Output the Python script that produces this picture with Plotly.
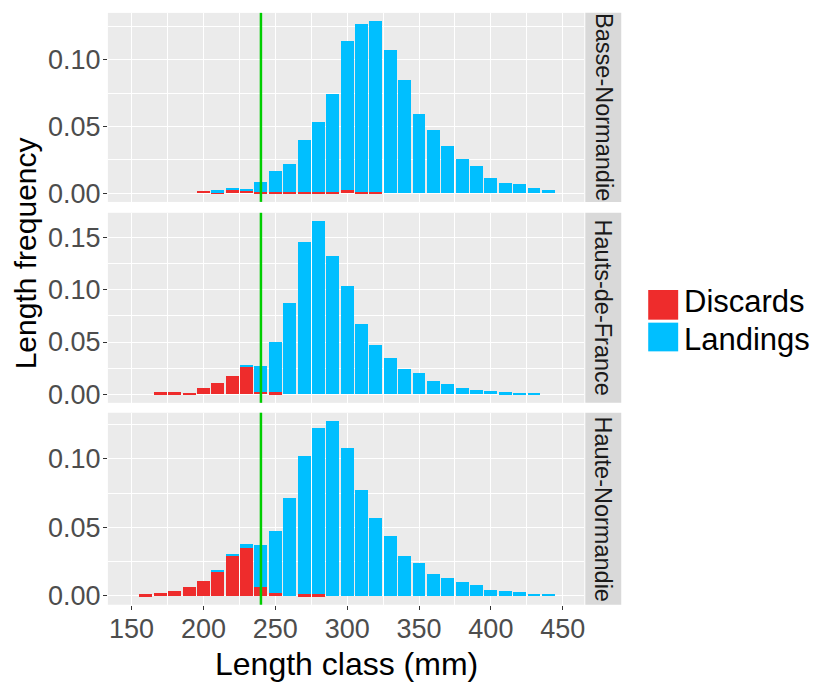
import plotly.graph_objects as go
from plotly.subplots import make_subplots

W, H = 825, 682

# ---------------- data ----------------
lengths = list(range(160, 450, 10))  # length classes (mm), bar centres
regions = ["Basse-Normandie", "Hauts-de-France", "Haute-Normandie"]

discards_bn = [0, 0, 0, 0, 0.0015, 0.0010, 0.0022, 0.0024, 0.0012, 0.0012,
               0.0012, 0.0012, 0.0012, 0.0012, 0.0022, 0.0012, 0.0012, 0, 0, 0,
               0, 0, 0, 0, 0, 0, 0, 0, 0]
landings_bn = [0, 0, 0, 0, 0, 0.0012, 0.0019, 0.0008, 0.0071, 0.0154,
               0.0208, 0.0386, 0.0520, 0.0734, 0.1119, 0.1251, 0.1273, 0.1068, 0.0851, 0.0595,
               0.0471, 0.0356, 0.0254, 0.0202, 0.0118, 0.0078, 0.0068, 0.0037, 0.0026]

discards_hf = [0, 0.0019, 0.0019, 0.0016, 0.0057, 0.0110, 0.0177, 0.0262, 0.0020, 0.0019,
               0, 0, 0, 0, 0, 0, 0, 0, 0, 0,
               0, 0, 0, 0, 0, 0, 0, 0, 0]
landings_hf = [0, 0, 0, 0, 0, 0, 0, 0.0022, 0.0251, 0.0479,
               0.0871, 0.1460, 0.1656, 0.1325, 0.1040, 0.0672, 0.0470, 0.0350, 0.0243, 0.0202,
               0.0123, 0.0098, 0.0060, 0.0044, 0.0028, 0.0019, 0.0016, 0.0016, 0]

discards_hn = [0.0013, 0.0025, 0.0035, 0.0066, 0.0106, 0.0180, 0.0293, 0.0351, 0.0065, 0.0023,
               0, 0.0013, 0.0013, 0, 0, 0, 0, 0, 0, 0,
               0, 0, 0, 0, 0, 0, 0, 0, 0]
landings_hn = [0, 0, 0, 0, 0, 0.0010, 0.0017, 0.0032, 0.0310, 0.0452,
               0.0714, 0.1006, 0.1210, 0.1274, 0.1080, 0.0772, 0.0569, 0.0436, 0.0293, 0.0242,
               0.0160, 0.0128, 0.0099, 0.0077, 0.0046, 0.0036, 0.0027, 0.0015, 0.0015]

discards = [discards_bn, discards_hf, discards_hn]
landings = [landings_bn, landings_hf, landings_hn]

x_ticks = [150, 200, 250, 300, 350, 400, 450]
y_ticks = [[0, 0.05, 0.10], [0, 0.05, 0.10, 0.15], [0, 0.05, 0.10]]
mls = 240  # minimum landing size (mm)

series_names = ["Discards", "Landings"]
series_colors = ["#EE2C2C", "#00BFFF"]

# ---------------- layout helpers ----------------
def px_x(v):
    return v / W

def px_y(v):
    return 1 - v / H

panel_left, panel_right = 108, 585
strip_right = 622
panel_rows = [(13, 204), (215, 407), (417, 611)]

FONT = "Liberation Sans, Arial, sans-serif"
TICK_FONT = dict(size=27, color="#4D4D4D", family=FONT)

fig = make_subplots(rows=3, cols=1, shared_xaxes=True, vertical_spacing=0.02)

for i in range(3):
    fig.add_trace(go.Bar(x=lengths, y=discards[i], width=9, name=series_names[0],
                         marker=dict(color=series_colors[0], line=dict(width=0)),
                         showlegend=False), row=i + 1, col=1)
    fig.add_trace(go.Bar(x=lengths, y=landings[i], width=9, name=series_names[1],
                         marker=dict(color=series_colors[1], line=dict(width=0)),
                         showlegend=False), row=i + 1, col=1)

fig.update_layout(barmode="stack", width=W, height=H,
                  margin=dict(l=0, r=0, t=0, b=0),
                  plot_bgcolor="#EBEBEB", paper_bgcolor="white",
                  font=dict(family=FONT), showlegend=False)

shapes = []
annotations = []
for i in range(3):
    top, bot = panel_rows[i]
    ymax = max(d + l for d, l in zip(discards[i], landings[i]))
    xa = "xaxis" if i == 0 else f"xaxis{i+1}"
    ya = "yaxis" if i == 0 else f"yaxis{i+1}"
    bottom = (i == 2)
    fig.layout[xa].update(
        domain=[px_x(panel_left), px_x(panel_right)], range=[133.5, 465],
        tickvals=x_ticks, ticktext=[str(v) for v in x_ticks],
        showticklabels=bottom, ticks="outside" if bottom else "",
        ticklen=4, tickwidth=1.1, tickcolor="#333333",
        tickfont=TICK_FONT, ticklabelstandoff=-4,
        showgrid=True, gridcolor="white", gridwidth=1.1,
        minor=dict(dtick=25, tick0=125, showgrid=True, gridcolor="white", gridwidth=0.55),
        zeroline=False, showline=False)
    fig.layout[ya].update(
        domain=[px_y(bot), px_y(top)], range=[-0.05 * ymax, 1.05 * ymax],
        tickvals=y_ticks[i], ticktext=[f"{v:.2f}" for v in y_ticks[i]],
        ticks="outside", ticklen=4, tickwidth=1.1, tickcolor="#333333",
        tickfont=TICK_FONT, ticklabelstandoff=-3,
        showgrid=True, gridcolor="white", gridwidth=1.1,
        minor=dict(dtick=0.025, tick0=0.025, showgrid=True, gridcolor="white", gridwidth=0.55),
        zeroline=False, showline=False)
    xref = "x" if i == 0 else f"x{i+1}"
    yref = "y" if i == 0 else f"y{i+1}"
    shapes.append(dict(type="line", xref=xref, yref=f"{yref} domain",
                       x0=mls, x1=mls, y0=0, y1=1,
                       line=dict(color="#00CD00", width=2.5)))
    # facet strip
    shapes.append(dict(type="rect", xref="paper", yref="paper",
                       x0=px_x(panel_right + 1), x1=px_x(strip_right),
                       y0=px_y(bot), y1=px_y(top),
                       fillcolor="#D9D9D9", line=dict(width=0), layer="below"))
    annotations.append(dict(text=regions[i], xref="paper", yref="paper",
                            x=px_x((panel_right + 1 + strip_right) / 2),
                            y=px_y((top + bot) / 2), showarrow=False,
                            textangle=90, xanchor="center", yanchor="middle",
                            font=dict(size=23.5, color="#1A1A1A", family=FONT)))

# axis titles
annotations.append(dict(text="Length class (mm)", xref="paper", yref="paper",
                        x=px_x((panel_left + panel_right) / 2), y=px_y(671),
                        showarrow=False, xanchor="center", yanchor="middle",
                        font=dict(size=32, color="black", family=FONT)))
annotations.append(dict(text="Length frequency", xref="paper", yref="paper",
                        x=px_x(25), y=px_y(256), textangle=-90,
                        showarrow=False, xanchor="center", yanchor="middle",
                        font=dict(size=30, color="black", family=FONT)))

# legend (keys + labels)
legend_rows = [(293, 323), (326, 355)]
legend_text_y = [305, 343]
for (t, b), ty, name, col in zip(legend_rows, legend_text_y, series_names, series_colors):
    shapes.append(dict(type="rect", xref="paper", yref="paper",
                       x0=px_x(649), x1=px_x(679), y0=px_y(b), y1=px_y(t),
                       fillcolor=col, line=dict(width=0)))
    annotations.append(dict(text=name, xref="paper", yref="paper",
                            x=px_x(683), y=px_y(ty),
                            showarrow=False, xanchor="left", yanchor="middle",
                            font=dict(size=31, color="black", family=FONT)))

fig.update_layout(shapes=shapes, annotations=annotations)
fig.write_html("out.html")
